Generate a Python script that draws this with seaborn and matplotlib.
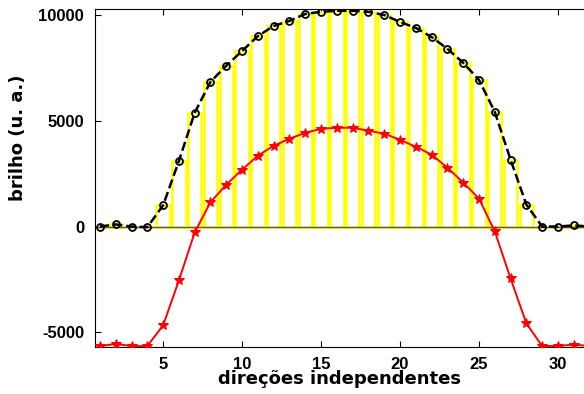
"""Brilho por direção independente (recriação)."""
import matplotlib
matplotlib.use("Agg")
import matplotlib.pyplot as plt
import pandas as pd
import seaborn as sns

direcoes = list(range(1, 33))
brilho_total = [0, 100, 0, -30, 1000, 3100, 5380, 6840, 7600, 8300, 9000, 9480,
                9720, 10050, 10150, 10200, 10200, 10150, 10000, 9670, 9390, 8960,
                8400, 7740, 6930, 5420, 3160, 1040, 0, 0, 50, 0]
brilho_diff = [-5650, -5550, -5650, -5650, -4670, -2550, -280, 1150, 1980, 2690,
               3350, 3820, 4150, 4430, 4620, 4670, 4670, 4530, 4390, 4100, 3770,
               3400, 2780, 2080, 1320, -230, -2450, -4580, -5650, -5650, -5580, -5650]

df = pd.DataFrame({"x": direcoes, "total": brilho_total, "diff": brilho_diff})

sns.set_style("ticks", {"axes.edgecolor": "black", "text.color": "black",
                        "axes.labelcolor": "black", "xtick.color": "black",
                        "ytick.color": "black"})
plt.rcParams["font.family"] = ["Liberation Sans", "DejaVu Sans"]
plt.rcParams["axes.unicode_minus"] = False

fig = plt.figure(figsize=(5.84, 3.94), dpi=100)
ax = fig.add_axes([0.163, 0.119, 0.837, 0.858])

# barras amarelas vazadas
ax.bar(df["x"], df["total"], width=0.85, facecolor="white", edgecolor="#ffff00",
       linewidth=1.8, zorder=1)
ax.axhline(0, color="#555555", linewidth=1.0, zorder=2)

sns.lineplot(data=df, x="x", y="total", ax=ax, color="black", linestyle="--",
             linewidth=1.8, marker="o", markersize=5, markerfacecolor="none",
             markeredgecolor="black", markeredgewidth=1.3, zorder=3)
sns.lineplot(data=df, x="x", y="diff", ax=ax, color="red", linewidth=1.4,
             marker="*", markersize=7.5, markeredgecolor="red", zorder=4)

ax.set_xlim(0.7, 31.65)
ax.set_ylim(-5700, 10280)
ax.set_xticks([5, 10, 15, 20, 25, 30])
ax.set_yticks([-5000, 0, 5000, 10000])
ax.tick_params(direction="in", top=True, length=4, width=0.8, labelsize=12, pad=8)
ax.tick_params(axis="x", pad=7)
for lbl in ax.get_xticklabels() + ax.get_yticklabels():
    lbl.set_fontweight("bold")
ax.spines["right"].set_visible(False)

ax.set_xlabel("direções independentes", fontsize=13, family="DejaVu Sans",
              fontweight="bold", labelpad=-1)
ax.set_ylabel("brilho (u. a.)", fontsize=13, family="DejaVu Sans",
              fontweight="bold")
ax.yaxis.set_label_coords(-0.14, 0.62)

fig.savefig("out.png", dpi=100)
